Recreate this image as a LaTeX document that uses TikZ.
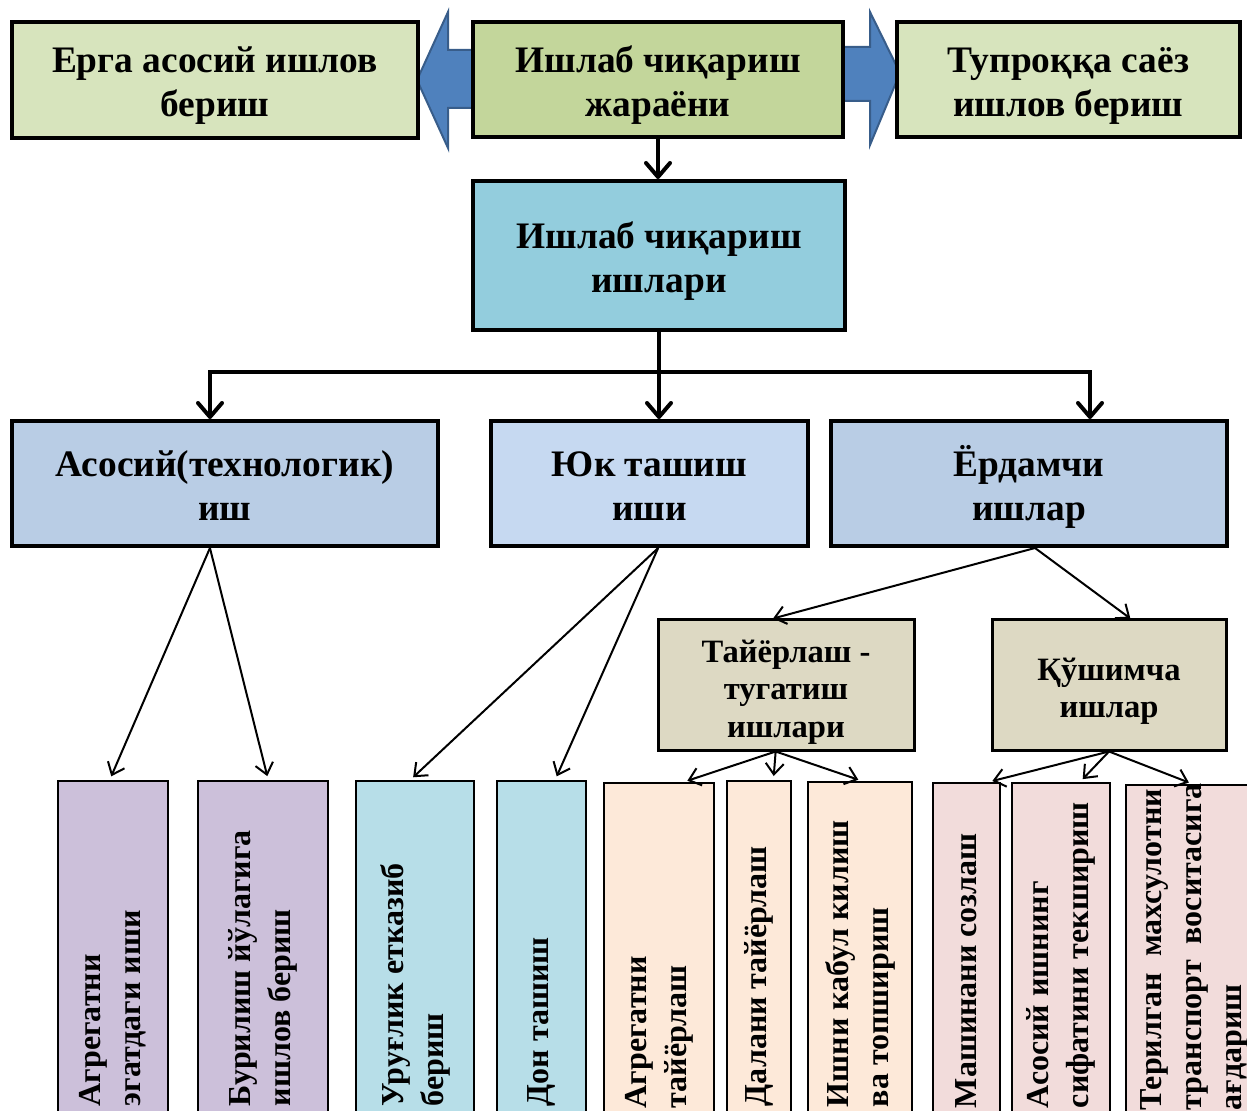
\documentclass[tikz,border=0pt]{standalone}
\usepackage{fontspec}
\setmainfont{Liberation Serif}
\usetikzlibrary{arrows.meta,calc,positioning}
\definecolor{sidegreen}{HTML}{D7E4BD}
\definecolor{topgreen}{HTML}{C3D69B}
\definecolor{worksteal}{HTML}{93CDDD}
\definecolor{steelblue}{HTML}{B9CDE5}
\definecolor{paleblue}{HTML}{C6D9F1}
\definecolor{khaki}{HTML}{DDD9C3}
\definecolor{lilac}{HTML}{CCC0DA}
\definecolor{icyblue}{HTML}{B7DEE8}
\definecolor{peach}{HTML}{FDE9D9}
\definecolor{rosy}{HTML}{F2DCDB}
\definecolor{arrowblue}{HTML}{4F81BD}
\definecolor{arrowedge}{HTML}{385D8A}
\tikzset{
	sz/.style 2 args={minimum width=#1*.5pt,minimum height=#2*.5pt},
	lines/.style={text height=#1,text depth=0pt},
	box/.style={draw,line width=2pt,inner sep=0pt,align=center,
		font=\bfseries\fontsize{18.7}{22}\selectfont,lines=37pt},
	sub box/.style={box,line width=1.5pt,font=\bfseries\fontsize{16.3}{18.5}\selectfont,lines=52pt},
	leaf/.style={draw,line width=.8pt,inner sep=0pt,anchor=north},
	leaf text/.style={rotate=90,anchor=west,align=left,inner sep=0pt,
		font=\bfseries\fontsize{16}{20}\selectfont},
	barb/.tip={Straight Barb[length=7pt,width=12pt,line join=round,line cap=round]},
	link/.style={line width=2pt,-{barb}},
	thin link/.style={line width=1pt,shorten >=2pt,-{Straight Barb[length=5.5pt,width=9pt]}},
	block arrow/.style={fill=arrowblue,draw=arrowedge,line width=1pt}
}
\begin{document}
\begin{tikzpicture}[x=.5pt,y=-.5pt]
	\useasboundingbox (0,0) rectangle (1247,1111);
	% side arrows
	\draw[block arrow] (473,50) -- (448,50) -- (448,12) -- (417,80) -- (448,148) -- (448,108) -- (473,108) -- cycle;
	\draw[block arrow] (843,47) -- (870,47) -- (870,12) -- (900,73) -- (870,145) -- (870,101) -- (843,101) -- cycle;
	\node[box,fill=sidegreen,sz={406}{116}] (soil) at (215,80) {Ерга асосий ишлов\\бериш};
	\node[box,fill=topgreen,sz={370}{115}] (process) at (658,79.5) {Ишлаб чиқариш\\жараёни};
	\node[box,fill=sidegreen,sz={343}{115}] (shallow) at (1068.5,79.5) {Тупроққа саёз\\ишлов бериш};
	\node[box,fill=worksteal,sz={372}{149}] (works) at (659,255.5) {Ишлаб чиқариш\\ишлари};
	\node[box,fill=steelblue,sz={426}{125}] (basic) at (225,483.5) {Асосий(технологик)\\иш};
	\node[box,fill=paleblue,sz={317}{125}] (haul) at (649.5,483.5) {Юк ташиш\\иши};
	\node[box,fill=steelblue,sz={396}{125}] (aux) at (1029,483.5) {Ёрдамчи\\ишлар};
	\node[sub box,fill=khaki,sz={256}{130}] (prep) at (786,685) {Тайёрлаш -\\тугатиш\\ишлари};
	\node[sub box,fill=khaki,sz={234}{130},lines=33pt] (extra) at (1109,685) {Қўшимча\\ишлар};
	% leaves
	\foreach \n/\x/\y/\w/\c in {1/113/780/110/lilac,2/263/780/130/lilac,3/415/780/118/icyblue,
		4/541.5/780/89/icyblue,5/659/782/110/peach,6/759/780/64/peach,7/860/781/104/peach,
		8/966.5/782/67/rosy,9/1061/782/98/rosy,10/1194/784/136/rosy}
		\node[leaf,fill=\c,sz={\w}{340}] (l\n) at (\x,\y) {};
	\node[leaf text] (t1) at ([yshift=7.5pt]l1.south) {Агрегатни\\эгатдаги иши};
	\node[leaf text] (t2) at ([yshift=7.5pt]l2.south) {Бурилиш йўлагига\\ишлов бериш};
	\node[leaf text] (t3) at ([yshift=7.5pt]l3.south) {Уруғлик етказиб\\бериш};
	\node[leaf text] (t4) at ([yshift=7.5pt]l4.south) {Дон ташиш};
	\node[leaf text] (t5) at ([yshift=7.5pt]l5.south) {Агрегатни\\тайёрлаш};
	\node[leaf text] (t6) at ([yshift=7.5pt]l6.south) {Далани тайёрлаш};
	\node[leaf text] (t7) at ([yshift=7.5pt]l7.south) {Ишни кабул килиш\\ва топшириш};
	\node[leaf text] (t8) at ([yshift=7.5pt]l8.south) {Машинани созлаш};
	\node[leaf text] (t9) at ([yshift=7.5pt]l9.south) {Асосий ишнинг\\сифатини текшириш};
	\node[leaf text] (t10) at ([yshift=7.5pt]l10.south) {Терилган\ \ махсулотни\\транспорт\ \ воситасига\\ағдариш};
	% thick links
	\coordinate (busL) at (210,372);
	\coordinate (busR) at (1090,372);
	\draw[link] (process.south) -- (process.south |- works.north);
	\draw[link] (works.south) -- (works.south |- haul.north);
	\draw[line width=2pt,{barb}-{barb}] (busL |- basic.north) -- (busL) -- (busR) -- (busR |- aux.north);
	% thin links
	\coordinate (basic foot) at ($(basic.south west)!.465!(basic.south east)$);
	\coordinate (haul foot) at ($(haul.south west)!.527!(haul.south east)$);
	\coordinate (aux foot) at ($(aux.south west)!.515!(aux.south east)$);
	\coordinate (prep foot) at ($(prep.south west)!.46!(prep.south east)$);
	\draw[thin link] (basic foot) -- ($(l1.north west)!.47!(l1.north east)$);
	\draw[thin link] (basic foot) -- ($(l2.north west)!.54!(l2.north east)$);
	\draw[thin link] (haul foot) -- ($(l3.north west)!.46!(l3.north east)$);
	\draw[thin link] (haul foot) -- ($(l4.north west)!.65!(l4.north east)$);
	\draw[thin link,shorten >=0pt] (aux foot) -- ($(prep.north west)!.45!(prep.north east)$);
	\draw[thin link,shorten >=0pt] (aux foot) -- ($(extra.north west)!.59!(extra.north east)$);
	\draw[thin link] (prep foot) -- ($(l5.north west)!.72!(l5.north east)$);
	\draw[thin link] (prep foot) -- ($(l6.north west)!.72!(l6.north east)$);
	\draw[thin link] (prep foot) -- ($(l7.north west)!.52!(l7.north east)$);
	\draw[thin link] (extra.south) -- ($(l8.north west)!.82!(l8.north east)$);
	\draw[thin link] (extra.south) -- ($(l9.north west)!.69!(l9.north east)$);
	\draw[thin link] (extra.south) -- ($(l10.north west)!.49!(l10.north east)$);
\end{tikzpicture}
\end{document}
